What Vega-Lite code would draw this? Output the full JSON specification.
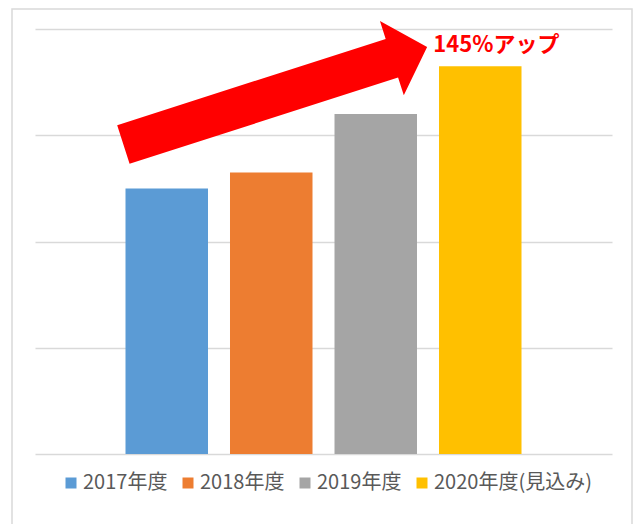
{
  "$schema": "https://vega.github.io/schema/vega-lite/v6.json",
  "width": 620,
  "height": 520,
  "autosize": {"type": "none"},
  "padding": {"left": 12, "top": 9, "right": 3, "bottom": 0},
  "background": "white",
  "config": {
    "view": {"stroke": "#d9d9d9", "strokeWidth": 1.5},
    "font": "Noto Sans CJK JP"
  },
  "datasets": {
    "bars": [
      {"year": "2017年度", "value": 100},
      {"year": "2018年度", "value": 106},
      {"year": "2019年度", "value": 128},
      {"year": "2020年度(見込み)", "value": 146}
    ],
    "arrow": [
      {"year": "2018年度", "value": 134.9}
    ],
    "note": [
      {"year": "2020年度(見込み)", "value": 151.3, "label": "145%アップ"}
    ]
  },
  "layer": [
    {
      "data": {"name": "bars"},
      "mark": {"type": "bar"},
      "encoding": {
        "x": {
          "field": "year", "type": "nominal", "axis": null,
          "scale": {"range": [23, 600], "paddingInner": 0.2105, "paddingOuter": 0.866}
        },
        "y": {
          "field": "value", "type": "quantitative",
          "scale": {"domain": [0, 160], "range": [445, 20]},
          "axis": {
            "grid": true, "labels": false, "ticks": false, "domain": false, "title": null,
            "values": [0, 40, 80, 120, 160], "gridColor": "#d9d9d9", "gridWidth": 1.5
          }
        },
        "color": {
          "field": "year", "type": "nominal",
          "scale": {"range": ["#5B9BD5", "#ED7D31", "#A5A5A5", "#FFC000"]},
          "legend": {
            "title": null, "orient": "none", "legendX": 49, "legendY": 464,
            "direction": "horizontal", "columns": 4, "columnPadding": 10,
            "symbolType": "square", "symbolSize": 121, "symbolStrokeWidth": 0,
            "labelFontSize": 20, "labelOffset": 2, "labelColor": "#595959",
            "labelFont": "Noto Sans CJK JP", "labelLimit": 400
          }
        }
      }
    },
    {
      "data": {"name": "arrow"},
      "mark": {
        "type": "point",
        "shape": "M-1,-0.127L0.768,-0.127L0.768,-0.2445L1,0L0.768,0.2445L0.768,0.127L-1,0.127Z",
        "size": 101761, "angle": 342.2, "filled": true, "color": "#FF0000",
        "opacity": 1, "xOffset": 4
      },
      "encoding": {
        "x": {"field": "year", "type": "nominal"},
        "y": {"field": "value", "type": "quantitative"}
      }
    },
    {
      "data": {"name": "note"},
      "mark": {
        "type": "text", "align": "left", "baseline": "alphabetic", "dx": -47,
        "fontSize": 22, "fontWeight": "bold", "color": "#FF0000", "font": "Noto Sans CJK JP"
      },
      "encoding": {
        "x": {"field": "year", "type": "nominal"},
        "y": {"field": "value", "type": "quantitative"},
        "text": {"field": "label"}
      }
    }
  ]
}
